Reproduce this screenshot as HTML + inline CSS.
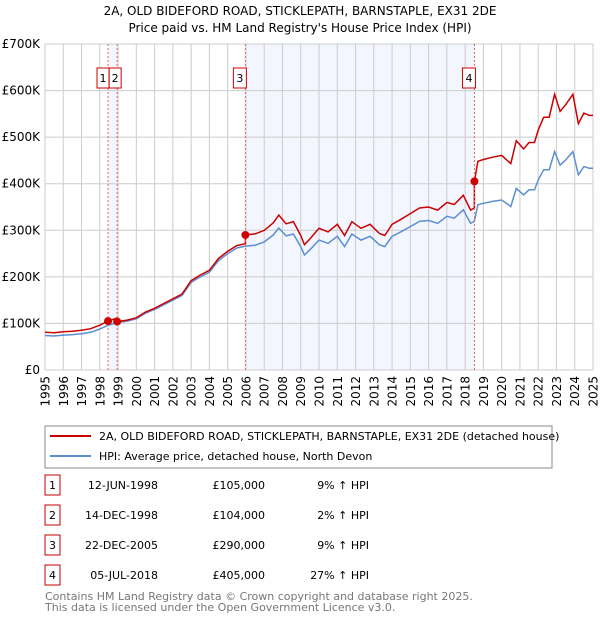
<!DOCTYPE html>
<html><head><meta charset="utf-8"><style>
body{margin:0;background:#fff;font-family:"Liberation Sans","DejaVu Sans",sans-serif;}
#wrap{position:relative;width:600px;height:620px;overflow:hidden;}
</style></head><body>
<div id="wrap">
<svg id="chart" width="600" height="620" xmlns="http://www.w3.org/2000/svg" font-family="DejaVu Sans, Liberation Sans, sans-serif">
<text x="300" y="15" text-anchor="middle" font-size="12">2A, OLD BIDEFORD ROAD, STICKLEPATH, BARNSTAPLE, EX31 2DE</text>
<text x="300" y="32" text-anchor="middle" font-size="12">Price paid vs. HM Land Registry's House Price Index (HPI)</text>
<g id="shade"></g><g id="grid"></g><g id="axes"></g><g id="lines"></g><g id="marks"></g>
<rect x="45" y="426" width="507" height="42" fill="#fff" stroke="#888"/>
<line x1="50" y1="436" x2="91" y2="436" stroke="#cc0000" stroke-width="2"/>
<text x="99" y="440" font-size="11">2A, OLD BIDEFORD ROAD, STICKLEPATH, BARNSTAPLE, EX31 2DE (detached house)</text>
<line x1="50" y1="456" x2="91" y2="456" stroke="#5b8fd0" stroke-width="2"/>
<text x="99" y="460" font-size="11">HPI: Average price, detached house, North Devon</text>
<g id="table" font-size="11"></g>
<text x="45" y="600" font-size="11" fill="#777">Contains HM Land Registry data © Crown copyright and database right 2025.</text>
<text x="45" y="611" font-size="11" fill="#777">This data is licensed under the Open Government Licence v3.0.</text>
</svg>
</div>
<script>
const hpiYears=[1995,1995.5,1996,1996.5,1997,1997.5,1998,1998.45,1998.95,1999.5,2000,2000.5,2001,2001.5,2002,2002.5,2003,2003.5,2004,2004.5,2005,2005.5,2005.97,2006.5,2007,2007.5,2007.8,2008.2,2008.6,2009,2009.2,2009.5,2010,2010.5,2011,2011.4,2011.8,2012.3,2012.8,2013.3,2013.6,2014,2014.5,2015,2015.5,2016,2016.5,2017,2017.4,2017.9,2018.3,2018.5,2018.7,2019,2019.5,2020,2020.5,2020.8,2021.2,2021.5,2021.8,2022,2022.3,2022.6,2022.9,2023.2,2023.5,2023.9,2024.2,2024.5,2024.8,2025];
const hpiValues=[74,73,75,76,78,81,88,96,102,105,110,122,130,140,150,160,188,200,210,235,250,262,266,268,275,290,305,288,292,265,247,258,279,272,287,265,292,279,287,269,265,287,297,308,319,321,315,330,326,344,315,319,355,358,362,365,351,390,376,387,387,408,430,430,469,440,451,469,419,437,433,433];
const saleYears=[1998.45,1998.95,2005.97,2018.51];
const salePrices=[105000,104000,290000,405000];
const saleLabels=["1","2","3","4"];
const saleDates=["12-JUN-1998","14-DEC-1998","22-DEC-2005","05-JUL-2018"];
const salePriceText=["£105,000","£104,000","£290,000","£405,000"];
const saleHpiText=["9% ↑ HPI","2% ↑ HPI","9% ↑ HPI","27% ↑ HPI"];
const yTicks=[0,100,200,300,400,500,600,700];
const yTickLabels=["£0","£100K","£200K","£300K","£400K","£500K","£600K","£700K"];

const X0=45,X1=593,Y0=370,Y1=44;
const xs=y=>X0+(y-1995)/30*(X1-X0);
const ys=v=>Y0-v/700*(Y0-Y1);
const NS="http://www.w3.org/2000/svg";
function mk(parent,tag,attrs){const e=document.createElementNS(NS,tag);for(const k in attrs)e.setAttribute(k,attrs[k]);document.getElementById(parent).appendChild(e);return e;}
function hpiAt(t){for(let i=1;i<hpiYears.length;i++){if(t<=hpiYears[i]){const a=hpiYears[i-1],b=hpiYears[i];return hpiValues[i-1]+(hpiValues[i]-hpiValues[i-1])*(t-a)/(b-a);}}return hpiValues[hpiValues.length-1];}

[[0,1],[2,3]].forEach(p=>{
 const r=mk('shade','rect',{x:xs(saleYears[p[0]]),y:Y1,width:xs(saleYears[p[1]])-xs(saleYears[p[0]]),height:Y0-Y1,fill:'#f3f6fe'});
 
 
});
for(let y=1995;y<=2025;y++){
 const l=mk('grid','line',{x1:xs(y),x2:xs(y),y1:Y1,y2:Y0,stroke:'#cccccc','stroke-width':1});
 
 
 const t=mk('axes','text',{x:0,y:0,'font-size':12,'text-anchor':'end',transform:`translate(${xs(y)+4.5},376) rotate(-90)`});
 t.textContent=y;
 
 
}
yTicks.forEach((v,i)=>{
 const l=mk('grid','line',{x1:X0,x2:X1,y1:ys(v),y2:ys(v),stroke:'#cccccc','stroke-width':1});
 
 
 const t=mk('axes','text',{x:40,y:ys(v)+4,'font-size':12,'text-anchor':'end'});
 t.textContent=yTickLabels[i];
 
 
});
saleYears.forEach((s,i)=>{
 const l=mk('marks','line',{x1:xs(s),x2:xs(s),y1:Y1,y2:Y0,stroke:'#e06666','stroke-dasharray':'2,2','stroke-width':1});
 
 
});
let d='';hpiYears.forEach((y,i)=>{d+=(i?'L':'M')+xs(y).toFixed(1)+','+ys(hpiValues[i]).toFixed(1);});
const hp=mk('lines','path',{d:d,fill:'none',stroke:'#5b8fd0','stroke-width':1.5});


const ratios=saleYears.map((s,i)=>salePrices[i]/1000/hpiAt(s));
function ratioAt(t){let r=ratios[0];saleYears.forEach((s,i)=>{if(t>=s)r=ratios[i];});return r;}
let pts=[];
hpiYears.forEach((y,i)=>pts.push([y,hpiValues[i]*ratioAt(y)]));
saleYears.forEach((s,i)=>{const prev=i?ratios[i-1]:ratios[0];pts.push([s-0.0001,hpiAt(s)*prev]);pts.push([s,salePrices[i]/1000]);});
pts.sort((a,b)=>a[0]-b[0]);
let d2='';pts.forEach((p,i)=>{d2+=(i?'L':'M')+xs(p[0]).toFixed(1)+','+ys(p[1]).toFixed(1);});
const rp=mk('lines','path',{d:d2,fill:'none',stroke:'#cc0000','stroke-width':1.5});


saleYears.forEach((s,i)=>{
 const c=mk('marks','circle',{cx:xs(s),cy:ys(salePrices[i]/1000),r:4,fill:'#cc0000'});
 
 
 const bx=(i===0)?xs(s)-11:(i===1?xs(s)-8:xs(s)-12);
 const r=mk('marks','rect',{x:bx,y:68,width:i<2?12:13,height:20,fill:'#fff',stroke:'#cc0000'});
 
 
 const t=mk('marks','text',{x:bx+(i<2?6:6.5),y:82,'font-size':11,'text-anchor':'middle'});
 t.textContent=saleLabels[i];
 
 
});
saleYears.forEach((s,i)=>{
 const cy=485+i*30;
 const r=mk('table','rect',{x:45,y:cy-10,width:15,height:20,fill:'#fff',stroke:'#cc0000'});
 
 
 const n=mk('table','text',{x:52.5,y:cy+4,'text-anchor':'middle'});n.textContent=saleLabels[i];
 
 
 const a=mk('table','text',{x:158,y:cy+4,'text-anchor':'end'});a.textContent=saleDates[i];
 
 
 const b=mk('table','text',{x:265,y:cy+4,'text-anchor':'end'});b.textContent=salePriceText[i];
 
 
 const c=mk('table','text',{x:369,y:cy+4,'text-anchor':'end'});c.textContent=saleHpiText[i];
 
 
});
</script>
</body></html>
